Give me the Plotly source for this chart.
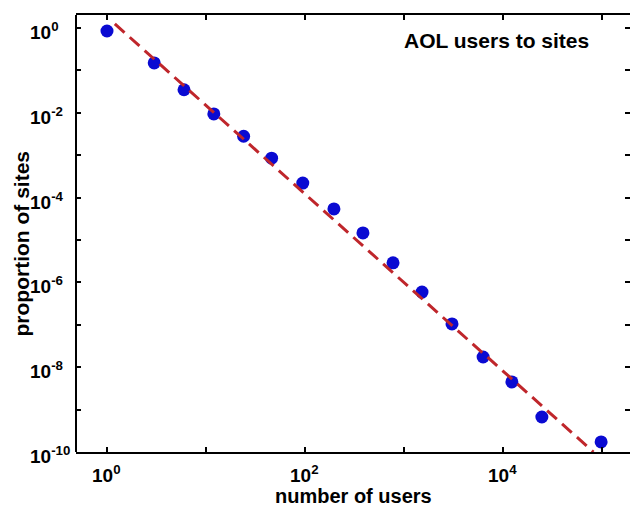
import math
import plotly.graph_objects as go

# Site popularity: number of AOL users visiting a site vs. proportion of sites
users = [1, 3, 6, 12, 24, 46, 95, 196, 385, 775, 1520, 3055, 6300, 12300, 24700, 98000]
site_share = [0.85, 0.15, 0.035, 0.0094, 2.8e-3, 8.5e-4, 2.2e-4, 5.4e-5, 1.47e-5,
              2.9e-6, 5.9e-7, 1.05e-7, 1.74e-8, 4.5e-9, 6.7e-10, 1.73e-10]

# Power-law fit endpoints
fit_users = [1.2, 82000]
fit_share = [1.25, 1.0e-10]

x_ticks = [1, 10, 100, 1000, 10000, 100000]
x_label_exps = [0, 2, 4]
y_ticks = [1, 1e-1, 1e-2, 1e-3, 1e-4, 1e-5, 1e-6, 1e-7, 1e-8, 1e-9, 1e-10]
y_label_exps = [0, -2, -4, -6, -8, -10]

FONT = "Arial, Liberation Sans, sans-serif"

fig = go.Figure()
fig.add_trace(go.Scatter(
    x=users, y=site_share, mode="markers",
    marker=dict(color="#0a0ad2", size=13, line=dict(width=0)),
    showlegend=False,
))
fig.add_trace(go.Scatter(
    x=fit_users, y=fit_share, mode="lines",
    line=dict(color="#bf262b", width=3, dash="13px,7px"),
    showlegend=False,
))

axis_common = dict(
    type="log", showgrid=False, zeroline=False,
    ticks="inside", ticklen=5, tickwidth=1.5, tickcolor="black",
    mirror="ticks", showticklabels=False,
)
fig.update_xaxes(
    **axis_common, range=[-0.313, 5.283],
    showline=True, linewidth=2, linecolor="black", tickvals=x_ticks,
)
fig.update_yaxes(
    **axis_common, range=[-10, 0.307],
    showline=False, tickvals=y_ticks,
)

annotations = []
# decade labels, written as 10 with a raised exponent
for e in y_label_exps:
    annotations.append(dict(
        xref="paper", yref="y", x=0, y=e, xanchor="left", yanchor="middle",
        xshift=-48, yshift=-3, showarrow=False,
        text=f"<b>10<sup>{e}</sup></b>",
        font=dict(family=FONT, size=19, color="black"),
    ))
for e in x_label_exps:
    annotations.append(dict(
        xref="x", yref="paper", x=e, y=0, xanchor="center", yanchor="middle",
        xshift=0, yshift=-22, showarrow=False,
        text=f"<b>10<sup>{e}</sup></b>",
        font=dict(family=FONT, size=19, color="black"),
    ))
annotations.append(dict(
    xref="paper", yref="paper", x=0.5, y=0, yanchor="middle",
    yshift=-43.5, showarrow=False, text="<b>number of users</b>",
    font=dict(family=FONT, size=20, color="black"),
))
annotations.append(dict(
    xref="paper", yref="paper", x=0, y=0.5, xanchor="center", yanchor="middle",
    xshift=-55, yshift=-10, textangle=-90, showarrow=False,
    text="<b>proportion of sites</b>",
    font=dict(family=FONT, size=21, color="black"),
))
annotations.append(dict(
    xref="paper", yref="paper", x=0.588, y=1, xanchor="left", yanchor="middle",
    yshift=-25, showarrow=False, text="<b>AOL users to sites</b>",
    font=dict(family=FONT, size=21, color="black"),
))

fig.update_layout(
    width=630, height=508,
    margin=dict(l=76, r=0, t=15, b=56),
    paper_bgcolor="white", plot_bgcolor="white",
    annotations=annotations,
    shapes=[dict(type="line", xref="paper", yref="paper", x0=0, x1=0, y0=0, y1=1,
                 line=dict(color="black", width=2))],
)

fig.write_html("out.html")
